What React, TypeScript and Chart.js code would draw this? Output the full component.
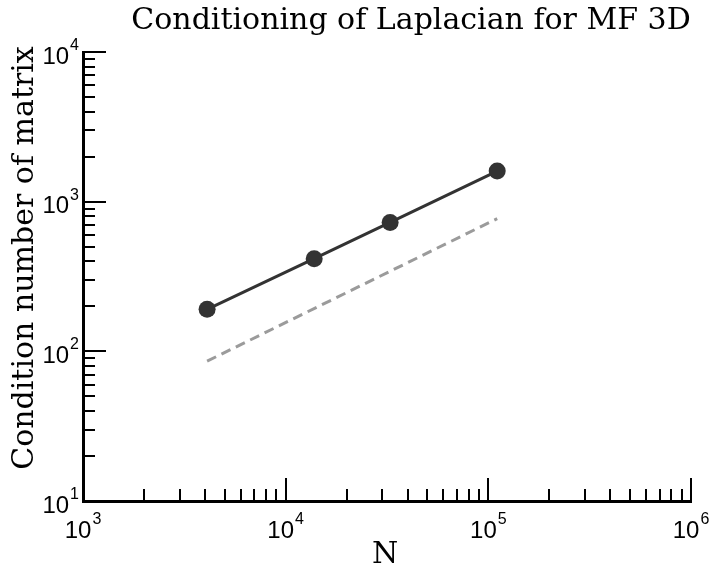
import React, { useEffect, useRef } from "react";
import { Chart, registerables } from "chart.js";

Chart.register(...registerables);

const TITLE = "Conditioning of Laplacian for MF 3D";
const X_LABEL = "N";
const Y_LABEL = "Condition number of matrix";

// measured series
const sizes = [4096, 13824, 32768, 110592];
const condition = [191, 416, 727, 1601];

// reference slope line (~N^(2/3))
const refSizes = [4096, 110592];
const refCondition = [86, 770];

// axis ticks
const xTicks = [1e3, 1e4, 1e5, 1e6];
const xTickExps = ["3", "4", "5", "6"];
const yTicks = [1e1, 1e2, 1e3, 1e4];
const yTickExps = ["1", "2", "3", "4"];

const SERIF = "'DejaVu Serif', serif";
const SANS = "'Liberation Sans', Arial, sans-serif";

function minorValues(ticks: number[]): number[] {
  const out: number[] = [];
  for (let i = 0; i < ticks.length - 1; i++) {
    for (let m = 2; m <= 9; m++) out.push(ticks[i] * m);
  }
  return out;
}

const decorPlugin = {
  id: "decor",
  afterDraw(chart: any) {
    const { ctx, chartArea: ca, scales } = chart;
    const xs = scales.x;
    const ys = scales.y;
    ctx.save();
    ctx.strokeStyle = "#000";
    ctx.lineWidth = 2;
    ctx.lineCap = "butt";
    const tickX = (v: number, len: number) => {
      const px = Math.round(xs.getPixelForValue(v));
      ctx.beginPath();
      ctx.moveTo(px, ca.bottom);
      ctx.lineTo(px, ca.bottom - len);
      ctx.stroke();
    };
    const tickY = (v: number, len: number) => {
      const py = Math.round(ys.getPixelForValue(v));
      ctx.beginPath();
      ctx.moveTo(ca.left, py);
      ctx.lineTo(ca.left + len, py);
      ctx.stroke();
    };
    minorValues(xTicks).forEach((v) => tickX(v, 12));
    xTicks.forEach((v) => tickX(v, 23));
    minorValues(yTicks).forEach((v) => tickY(v, 12));
    yTicks.forEach((v) => tickY(v, 23));

    ctx.fillStyle = "#000";
    ctx.textBaseline = "alphabetic";
    // y tick labels
    yTicks.forEach((v, i) => {
      const py = ys.getPixelForValue(v);
      ctx.font = `16px ${SANS}`;
      ctx.textAlign = "right";
      const expRight = ca.left - 4;
      ctx.fillText(yTickExps[i], expRight, py - 2);
      const ew = ctx.measureText(yTickExps[i]).width;
      ctx.font = `24px ${SANS}`;
      ctx.fillText("10", expRight - ew - 1, py + 11.5);
    });
    // x tick labels
    xTicks.forEach((v, i) => {
      const px = xs.getPixelForValue(v);
      ctx.font = `24px ${SANS}`;
      const bw = ctx.measureText("10").width;
      ctx.font = `16px ${SANS}`;
      const ew = ctx.measureText(xTickExps[i]).width;
      const start = px - (bw + 1 + ew) / 2;
      ctx.textAlign = "left";
      ctx.font = `24px ${SANS}`;
      ctx.fillText("10", start, ca.bottom + 36.5);
      ctx.font = `16px ${SANS}`;
      ctx.fillText(xTickExps[i], start + bw + 1, ca.bottom + 22.5);
    });

    // title
    ctx.font = `30px ${SERIF}`;
    ctx.textAlign = "center";
    ctx.fillText(TITLE, 411, 29);

    // x axis title
    ctx.fillText(X_LABEL, 385, 563);

    // y axis title
    ctx.save();
    ctx.translate(33, 258);
    ctx.rotate(-Math.PI / 2);
    ctx.font = `30px ${SERIF}`;
    ctx.textAlign = "center";
    ctx.fillText(Y_LABEL, 0, 0);
    ctx.restore();

    ctx.restore();
  },
};

export default function App() {
  const canvasRef = useRef<HTMLCanvasElement | null>(null);

  useEffect(() => {
    const canvas = canvasRef.current;
    if (!canvas) return;
    const chart = new Chart(canvas, {
      type: "scatter",
      data: {
        datasets: [
          {
            label: "reference",
            data: refSizes.map((x, i) => ({ x, y: refCondition[i] })),
            showLine: true,
            borderColor: "#9b9b9b",
            borderWidth: 3,
            borderDash: [10, 6],
            pointRadius: 0,
            order: 2,
          },
          {
            label: "condition",
            data: sizes.map((x, i) => ({ x, y: condition[i] })),
            showLine: true,
            borderColor: "#333333",
            backgroundColor: "#333333",
            borderWidth: 3,
            pointRadius: 8.5,
            pointBorderWidth: 0,
            pointBackgroundColor: "#333333",
            order: 1,
          },
        ],
      },
      options: {
        animation: false,
        responsive: false,
        devicePixelRatio: 1,
        layout: { padding: { left: 83, top: 52, right: 20, bottom: 66 } },
        plugins: {
          legend: { display: false },
          title: { display: false },
          tooltip: { enabled: false },
        },
        scales: {
          x: {
            type: "logarithmic",
            position: "bottom",
            min: 1e3,
            max: 1e6,
            grid: { display: false, drawTicks: false },
            ticks: { display: false },
            border: { display: true, color: "#000", width: 3 },
            afterFit: (s: any) => {
              s.height = 0;
            },
          },
          y: {
            type: "logarithmic",
            position: "left",
            min: 1e1,
            max: 1e4,
            grid: { display: false, drawTicks: false },
            ticks: { display: false },
            border: { display: true, color: "#000", width: 3 },
            afterFit: (s: any) => {
              s.width = 0;
            },
          },
        },
      },
      plugins: [decorPlugin],
    });
    return () => chart.destroy();
  }, []);

  return (
    <div style={{ position: "absolute", left: 0, top: 0, width: 711, height: 567, background: "#fff" }}>
      <canvas ref={canvasRef} width={711} height={567} style={{ display: "block" }} />
    </div>
  );
}
